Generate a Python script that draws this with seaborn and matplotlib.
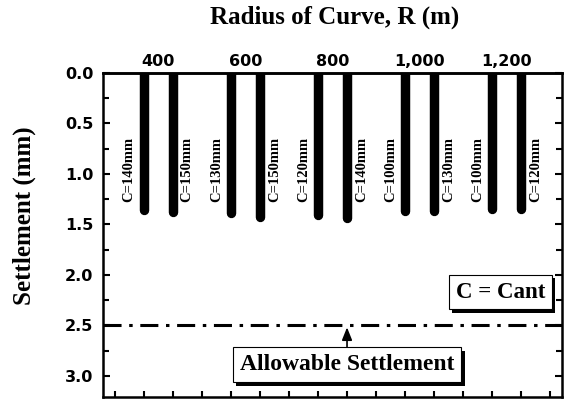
import numpy as np
import pandas as pd
import matplotlib
matplotlib.use('Agg')
import matplotlib.pyplot as plt
import matplotlib.patheffects as pe
from matplotlib.ticker import MultipleLocator, FixedLocator
import seaborn as sns

# ---- data ----
radii = [400, 600, 800, 1000, 1200]
cant_mm = [140, 150, 130, 150, 120, 140, 100, 130, 100, 120]
settlement_mm = [1.36, 1.38, 1.39, 1.43, 1.41, 1.44, 1.37, 1.37, 1.35, 1.35]
allowable_mm = 2.5
y_ticks = [0.0, 0.5, 1.0, 1.5, 2.0, 2.5, 3.0]

sns.set_theme(style='ticks')
plt.rcParams['font.family'] = ['DejaVu Sans']
plt.rcParams['lines.scale_dashes'] = False
for key in ['text.color', 'axes.labelcolor', 'xtick.color', 'ytick.color', 'axes.edgecolor']:
    plt.rcParams[key] = 'black'

SERIF = 'Liberation Serif'

fig = plt.figure(figsize=(5.65, 4.0), dpi=100)
ax = fig.add_axes([103 / 565, 3 / 400, 459 / 565, 324 / 400])

# bar positions: two bars per radius, one empty slot between groups
bar_pos = [3 * i + 1 + j for i in range(len(radii)) for j in (0, 1)]
centers = [3 * i + 1.5 for i in range(len(radii))]

rows = []
for k, (p, s) in enumerate(zip(bar_pos, settlement_mm)):
    rows.append({'pos': p, 'settle': 0.0, 'bar': k})
    rows.append({'pos': p, 'settle': s, 'bar': k})
df = pd.DataFrame(rows)

sns.lineplot(data=df, x='pos', y='settle', units='bar', estimator=None,
             sort=False, color='black', lw=6.8, solid_capstyle='round',
             ax=ax, legend=False)

for k, (p, c) in enumerate(zip(bar_pos, cant_mm)):
    off = -0.5 if k % 2 == 0 else 0.5
    ax.text(p + off, 0.96, f'C={c}mm', rotation=90, ha='center', va='center',
            fontfamily=SERIF, fontweight='bold', fontsize=10.5, color='black')

# allowable settlement line
ax.axhline(allowable_mm, color='black', lw=2.2, dashes=(13, 5.5, 2.5, 5.5))

ann = ax.annotate('Allowable Settlement', xy=(8, allowable_mm + 0.02), xytext=(8, 2.89),
                  ha='center', va='center', fontsize=17, fontfamily=SERIF, fontweight='bold',
                  color='black',
                  bbox=dict(boxstyle='square,pad=0.3', fc='white', ec='black', lw=0.8),
                  arrowprops=dict(arrowstyle='-|>,head_length=0.45,head_width=0.18',
                                  color='black', lw=1.2, shrinkA=0, shrinkB=0))
ann.get_bbox_patch().set_path_effects([
    pe.SimplePatchShadow(offset=(2.5, -2.5), shadow_rgbFace='black', alpha=1.0), pe.Normal()])

cant_txt = ax.text(13.28, 2.17, 'C = Cant', ha='center', va='center', fontsize=16.5,
                   fontfamily=SERIF, fontweight='bold', color='black',
                   bbox=dict(boxstyle='square,pad=0.3', fc='white', ec='black', lw=0.8))
cant_txt.get_bbox_patch().set_path_effects([
    pe.SimplePatchShadow(offset=(2.5, -2.5), shadow_rgbFace='black', alpha=1.0), pe.Normal()])

# axes
ax.set_xlim(-0.4, 15.4)
ax.set_ylim(3.21, 0)
ax.xaxis.set_major_locator(FixedLocator(np.arange(0, 16)))
ax.set_xlabel('')
ax.tick_params(axis='x', which='major', direction='in', bottom=True, top=False,
               length=4, width=1.5, labelbottom=False)
ax.set_yticks(y_ticks)
ax.set_yticklabels([f'{v:.1f}' for v in y_ticks])
ax.yaxis.set_minor_locator(MultipleLocator(0.25))
ax.tick_params(axis='y', which='both', direction='in', left=True, right=True,
               width=1.5, labelsize=11.5, pad=7, colors='black')
ax.tick_params(axis='y', which='major', length=5)
ax.tick_params(axis='y', which='minor', length=4)
for lbl in ax.get_yticklabels():
    lbl.set_fontweight('bold')
for s in ax.spines.values():
    s.set_linewidth(1.8)
    s.set_color('black')

sec = ax.secondary_xaxis('top')
sec.set_xticks(centers, labels=[f'{r:,}' for r in radii])
sec.tick_params(length=0, pad=3, labelsize=11.5, colors='black')
for lbl in sec.get_xticklabels():
    lbl.set_fontweight('bold')
sec.spines['top'].set_linewidth(1.8)
sec.spines['top'].set_color('black')

ax.set_ylabel('Settlement (mm)', fontfamily=SERIF, fontweight='bold', fontsize=18,
              color='black')
ax.yaxis.set_label_coords(-0.145, 0.56)

fig.text(335 / 565, 1 - 17 / 400, 'Radius of Curve, R (m)', ha='center', va='center',
         fontfamily=SERIF, fontweight='bold', fontsize=18, color='black')

fig.savefig('out.png', dpi=100)
